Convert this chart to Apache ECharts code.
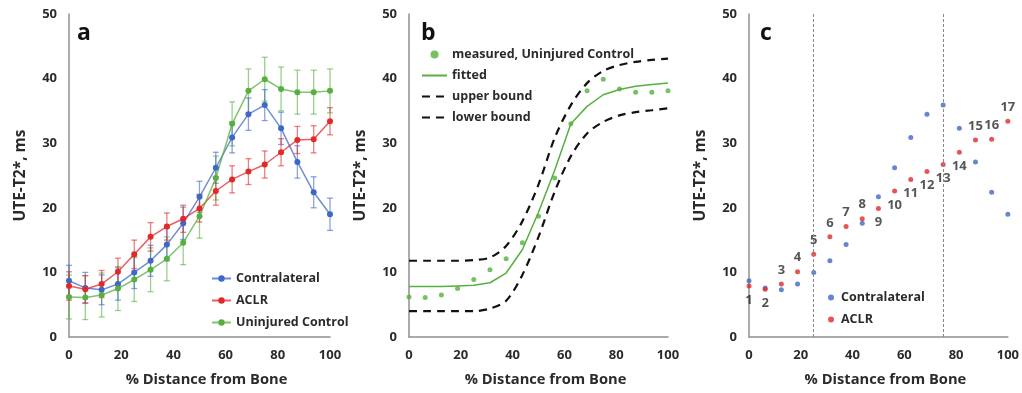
<!DOCTYPE html>
<html>
<head>
<meta charset="utf-8">
<script src="https://cdn.jsdelivr.net/npm/echarts@6/dist/echarts.min.js"></script>
<style>
  html, body { margin: 0; padding: 0; background: #fff; }
  #chart { width: 1022px; height: 393px; }
</style>
</head>
<body>
<div id="chart"></div>
<script>
// % distance from bone (17 sample positions)
const xPct = [0, 6.25, 12.5, 18.75, 25, 31.25, 37.5, 43.75, 50, 56.25, 62.5, 68.75, 75, 81.25, 87.5, 93.75, 100];

// panel a / c : mean UTE-T2* (ms) and error
const contralateral = [8.7, 7.6, 7.3, 8.2, 10.0, 11.8, 14.3, 17.6, 21.7, 26.2, 30.9, 34.5, 35.9, 32.3, 27.1, 22.4, 19.0];
const aclr = [7.9, 7.4, 8.2, 10.1, 12.8, 15.5, 17.1, 18.3, 19.9, 22.6, 24.4, 25.6, 26.7, 28.6, 30.5, 30.6, 33.4];
const control = [6.2, 6.1, 6.5, 7.5, 8.9, 10.4, 12.1, 14.6, 18.7, 24.6, 33.0, 38.1, 39.9, 38.4, 37.9, 37.9, 38.1];
const contralateralErr = [2.4, 2.4, 2.3, 2.5, 2.5, 2.4, 2.5, 2.5, 2.4, 2.4, 2.4, 2.5, 2.4, 2.5, 2.5, 2.4, 2.5];
const aclrErr = [2.2, 2.1, 2.1, 2.1, 2.2, 2.2, 2.1, 2.1, 2.1, 2.2, 2.1, 2.0, 2.1, 2.1, 2.1, 2.1, 2.1];
const controlErr = [3.4, 3.4, 3.4, 3.4, 3.4, 3.4, 3.4, 3.4, 3.4, 3.4, 3.4, 3.4, 3.4, 3.4, 3.4, 3.4, 3.4];

// panel b : sigmoid fit of the uninjured control
const fitted = [7.8, 7.8, 7.8, 7.9, 8.0, 8.4, 9.9, 13.5, 19.3, 25.8, 33.0, 35.7, 37.5, 38.3, 38.8, 39.1, 39.3];
const upperBound = [11.8, 11.8, 11.8, 11.8, 11.9, 12.3, 14.1, 17.9, 23.6, 30.8, 35.9, 39.3, 41.2, 42.1, 42.6, 42.9, 43.1];
const lowerBound = [4.0, 4.0, 4.0, 4.0, 4.0, 4.4, 5.6, 9.6, 15.5, 22.5, 28.0, 31.5, 33.3, 34.3, 34.8, 35.1, 35.4];

// panel c : point numbers and the zone limits
const pointLabels = ['1', '2', '3', '4', '5', '6', '7', '8', '9', '10', '11', '12', '13', '14', '15', '16', '17'];
const zoneLimits = [25, 75];

// tick labels
const xTicks = [0, 20, 40, 60, 80, 100];
const yTicks = [0, 10, 20, 30, 40, 50];

const BLUE = '#3f68c6';
const RED = '#e02a2a';
const GREEN = '#56b03f';
const TXT = '#2b2b2b';
const AXIS = '#8f8f8f';
const FONT = 'Open Sans';

// label side for the numbered points in panel c
const labelSide = ['bottom', 'bottom', 'top', 'top', 'top', 'top', 'top', 'top', 'bottom', 'bottom',
  'bottom', 'bottom', 'bottom', 'bottom', 'top', 'top', 'top'];

const chart = echarts.init(document.getElementById('chart'));

const grids = [
  { left: 69, top: 14, width: 261, height: 323 },
  { left: 409, top: 14, width: 259, height: 323 },
  { left: 749, top: 14, width: 259, height: 323 }
];

function xAxisFor(i) {
  return {
    gridIndex: i, type: 'value', min: xTicks[0], max: xTicks[xTicks.length - 1], interval: 20,
    name: '% Distance from Bone', nameLocation: 'middle', nameGap: 35,
    nameTextStyle: { fontFamily: FONT, fontWeight: 'bold', fontSize: 14.7, color: TXT, padding: [0, 0, 0, 14] },
    axisLine: { lineStyle: { color: AXIS, width: 1.5 } },
    axisTick: { show: false },
    splitLine: { show: false },
    axisLabel: { fontFamily: FONT, fontWeight: 'bold', fontSize: 13, color: TXT, margin: 12 }
  };
}
function yAxisFor(i) {
  return {
    gridIndex: i, type: 'value', min: yTicks[0], max: yTicks[yTicks.length - 1], interval: 10,
    name: 'UTE-T2*, ms', nameLocation: 'middle', nameGap: 40, nameRotate: 90,
    nameTextStyle: { fontFamily: FONT, fontWeight: 'bold', fontSize: 15.5, color: TXT },
    axisLine: { show: true, lineStyle: { color: AXIS, width: 1.5 } },
    axisTick: { show: false },
    splitLine: { show: false },
    axisLabel: { fontFamily: FONT, fontWeight: 'bold', fontSize: 13, color: TXT, margin: 12 }
  };
}

function pairs(vals) { return xPct.map((x, i) => [x, vals[i]]); }

function errorSeries(vals, errs, color, gi) {
  return {
    type: 'custom', xAxisIndex: gi, yAxisIndex: gi, z: 1, silent: true,
    data: xPct.map((x, i) => [x, vals[i], errs[i]]),
    renderItem: function (params, api) {
      const x = api.value(0), y = api.value(1), e = api.value(2);
      const top = api.coord([x, y + e]);
      const bot = api.coord([x, y - e]);
      const st = { stroke: color, lineWidth: 1.3, opacity: 0.6 };
      return {
        type: 'group',
        children: [
          { type: 'line', shape: { x1: top[0], y1: top[1], x2: bot[0], y2: bot[1] }, style: st },
          { type: 'line', shape: { x1: top[0] - 3, y1: top[1], x2: top[0] + 3, y2: top[1] }, style: st },
          { type: 'line', shape: { x1: bot[0] - 3, y1: bot[1], x2: bot[0] + 3, y2: bot[1] }, style: st }
        ]
      };
    }
  };
}

function lineWithMarkers(name, vals, color) {
  return {
    name: name, type: 'line', xAxisIndex: 0, yAxisIndex: 0, z: 3,
    data: pairs(vals), symbol: 'circle', symbolSize: 6,
    itemStyle: { color: color },
    lineStyle: { color: color, width: 1.5, opacity: 0.75 }
  };
}

const legendText = { fontFamily: FONT, fontWeight: 'bold', fontSize: 12.5, color: TXT };
const noSymbol = { opacity: 0 };

const option = {
  backgroundColor: '#fff',
  animation: false,
  grid: grids,
  xAxis: [xAxisFor(0), xAxisFor(1), xAxisFor(2)],
  yAxis: [yAxisFor(0), yAxisFor(1), yAxisFor(2)],
  legend: [
    {
      data: ['Contralateral', 'ACLR', 'Uninjured Control'],
      orient: 'vertical', left: 211, top: 272, padding: 0, itemWidth: 19, itemHeight: 8, itemGap: 9,
      textStyle: legendText
    },
    {
      data: [
        { name: 'measured, Uninjured Control' },
        { name: 'fitted', itemStyle: noSymbol },
        { name: 'upper bound', itemStyle: noSymbol },
        { name: 'lower bound', itemStyle: noSymbol }
      ],
      orient: 'vertical', left: 421, top: 48, padding: 0, itemWidth: 25, itemHeight: 8, itemGap: 8,
      textStyle: legendText
    },
    {
      data: ['c:Contralateral', 'c:ACLR'],
      formatter: function (n) { return n.replace('c:', ''); },
      orient: 'vertical', left: 828, top: 291, padding: 0, itemWidth: 10, itemHeight: 6, itemGap: 9,
      textStyle: legendText
    }
  ],
  graphic: [
    { type: 'text', left: 77, top: 22, style: { text: 'a', fontFamily: FONT, fontWeight: 'bold', fontSize: 23, fill: '#111' } },
    { type: 'text', left: 421, top: 22, style: { text: 'b', fontFamily: FONT, fontWeight: 'bold', fontSize: 23, fill: '#111' } },
    { type: 'text', left: 760, top: 22, style: { text: 'c', fontFamily: FONT, fontWeight: 'bold', fontSize: 23, fill: '#111' } }
  ],
  series: [
    // panel a
    errorSeries(control, controlErr, GREEN, 0),
    errorSeries(contralateral, contralateralErr, BLUE, 0),
    errorSeries(aclr, aclrErr, RED, 0),
    lineWithMarkers('Contralateral', contralateral, BLUE),
    lineWithMarkers('ACLR', aclr, RED),
    lineWithMarkers('Uninjured Control', control, GREEN),

    // panel b
    {
      name: 'measured, Uninjured Control', type: 'scatter', xAxisIndex: 1, yAxisIndex: 1,
      data: pairs(control), symbolSize: 5, itemStyle: { color: GREEN }, z: 4
    },
    {
      name: 'fitted', type: 'line', xAxisIndex: 1, yAxisIndex: 1, data: pairs(fitted),
      symbol: 'none', itemStyle: { color: GREEN }, lineStyle: { color: GREEN, width: 1.5 }
    },
    {
      name: 'upper bound', type: 'line', xAxisIndex: 1, yAxisIndex: 1, data: pairs(upperBound), smooth: 0.3,
      symbol: 'none', itemStyle: { color: '#111' }, lineStyle: { color: '#111', width: 2.2, type: [8, 6] }
    },
    {
      name: 'lower bound', type: 'line', xAxisIndex: 1, yAxisIndex: 1, data: pairs(lowerBound), smooth: 0.3,
      symbol: 'none', itemStyle: { color: '#111' }, lineStyle: { color: '#111', width: 2.2, type: [8, 6] }
    },

    // panel c
    {
      name: 'c:Contralateral', type: 'scatter', xAxisIndex: 2, yAxisIndex: 2,
      data: pairs(contralateral), symbolSize: 5, itemStyle: { color: BLUE },
      markLine: {
        silent: true, symbol: 'none', label: { show: false },
        lineStyle: { color: '#888', width: 1, type: [3, 2] },
        data: zoneLimits.map(v => ({ xAxis: v }))
      }
    },
    {
      name: 'c:ACLR', type: 'scatter', xAxisIndex: 2, yAxisIndex: 2, symbolSize: 5,
      itemStyle: { color: RED },
      data: xPct.map((x, i) => ({
        value: [x, aclr[i]],
        label: {
          show: true, formatter: pointLabels[i], position: labelSide[i], distance: 5,
          fontFamily: FONT, fontWeight: 'bold', fontSize: 13, color: TXT
        }
      }))
    }
  ]
};

chart.setOption(option);
window.addEventListener('resize', () => { chart.resize(); });
</script>
</body>
</html>
